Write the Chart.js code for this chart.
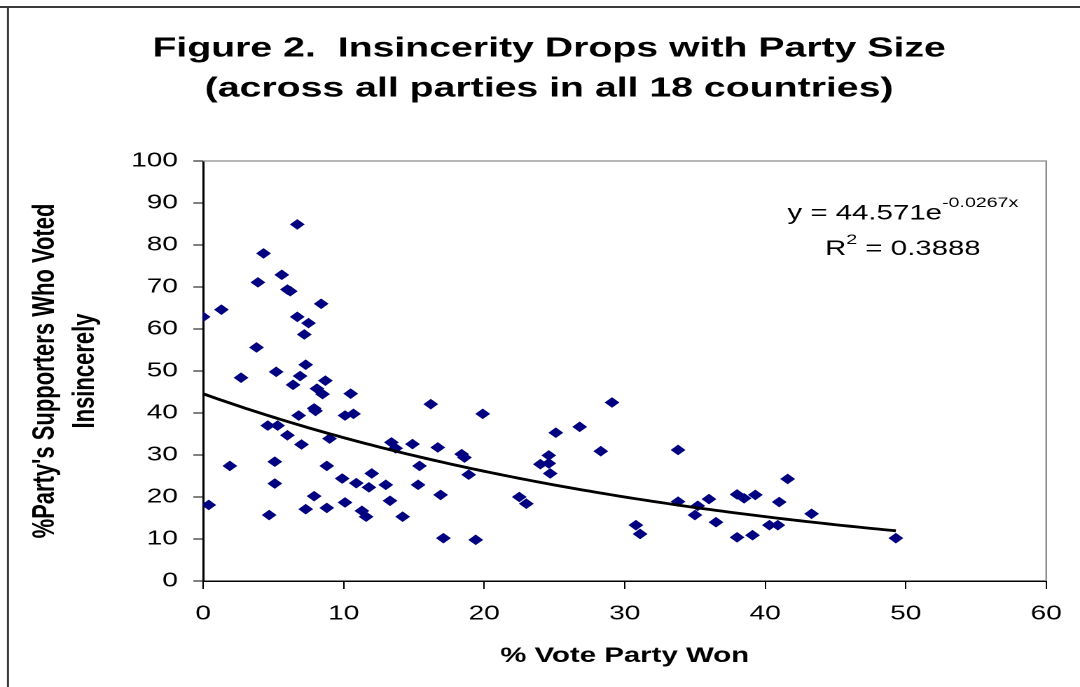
<!DOCTYPE html>
<html>
<head>
<meta charset="utf-8">
<script src="https://cdn.jsdelivr.net/npm/chart.js@4.4.0/dist/chart.umd.min.js"></script>
<style>
  html, body { margin: 0; padding: 0; background: #fff; overflow: hidden; }
</style>
</head>
<body>
<!-- drawn at 771 wide and shown at 1080: the original figure is stretched sideways -->
<canvas id="chart" width="771" height="687" style="width:1080px;height:687px;display:block"></canvas>
<script>
// % of the vote each party won (x) and % of its supporters voting insincerely (y)
const voteShare = [
  0.0, 0.4, 1.3, 1.9, 2.7, 3.8, 3.9, 4.3, 4.6, 4.7,
  5.1, 5.1, 5.2, 5.3, 5.6, 6.0, 6.2, 6.0, 6.4, 6.7,
  6.7, 6.8, 6.9, 7.0, 7.2, 7.3, 7.3, 7.5, 7.9, 7.9,
  8.0, 8.1, 8.4, 8.5, 8.7, 8.8, 8.8, 9.0, 9.9, 10.1,
  10.1, 10.5, 10.7, 10.9, 11.3, 11.6, 11.8, 12.0, 13.0, 13.3,
  13.4, 13.7, 14.2, 14.9, 15.3, 15.4, 16.2, 16.7, 16.9, 17.1,
  18.4, 18.6, 18.9, 19.4, 19.9, 22.5, 23.0, 24.0, 24.6, 24.6,
  24.7, 25.1, 26.8, 28.3, 29.1, 30.8, 31.1, 33.8, 33.8, 35.0,
  35.2, 36.0, 36.5, 38.0, 38.0, 38.5, 39.1, 39.3, 40.3, 40.9,
  41.0, 41.6, 43.3, 49.3
];
const insincere = [
  62.9, 18.1, 64.6, 27.4, 48.4, 55.6, 71.1, 78.0, 37.0, 15.7,
  28.4, 23.2, 49.8, 37.0, 72.9, 69.4, 69.0, 34.7, 46.7, 84.9,
  62.9, 39.4, 48.8, 32.5, 58.7, 51.5, 17.1, 61.4, 41.1, 20.2,
  40.5, 45.8, 66.0, 44.5, 47.7, 27.4, 17.4, 33.9, 24.4, 39.4,
  18.7, 44.6, 39.8, 23.3, 16.7, 15.3, 22.3, 25.6, 22.9, 19.1,
  33.0, 31.6, 15.3, 32.6, 22.9, 27.4, 42.1, 31.8, 20.5, 10.2,
  30.2, 29.4, 25.3, 9.8, 39.8, 20.0, 18.4, 27.8, 28.0, 29.9,
  25.6, 35.3, 36.7, 30.9, 42.5, 13.3, 11.2, 31.2, 18.9, 15.7,
  17.9, 19.5, 14.0, 20.6, 10.4, 19.7, 10.9, 20.5, 13.3, 13.3,
  18.8, 24.3, 16.0, 10.2
];

// exponential trend line as printed on the figure
const trendA = 44.571;
const trendB = -0.0267;
const trendR2 = '0.3888';

const titleLines = ['Figure 2.  Insincerity Drops with Party Size', '(across all parties in all 18 countries)'];
const xTitle = '% Vote Party Won';
const yTitle = ["%Party's Supporters Who Voted", 'Insincerely'];

const FONT = 'Arial, "Liberation Sans", sans-serif';

const points = voteShare.map((x, i) => ({ x: x, y: insincere[i] }));
const xMax = Math.max(...voteShare);
const trend = [];
for (let x = 0; x < xMax; x += 0.5) trend.push({ x: x, y: trendA * Math.exp(trendB * x) });
trend.push({ x: xMax, y: trendA * Math.exp(trendB * xMax) });

const decorations = {
  id: 'decorations',
  afterDraw(chart) {
    const ctx = chart.ctx;
    const { left, right, top, bottom } = chart.chartArea;
    const xs = chart.scales.x, ys = chart.scales.y;
    ctx.save();

    // outer frame (top and left edges)
    ctx.strokeStyle = '#3a3a3a';
    ctx.lineWidth = 2;
    ctx.beginPath(); ctx.moveTo(0, 7); ctx.lineTo(chart.width, 7); ctx.stroke();
    ctx.lineWidth = 1.5;
    ctx.beginPath(); ctx.moveTo(5.7, 7); ctx.lineTo(5.7, chart.height); ctx.stroke();

    // plot area border, top and right
    ctx.strokeStyle = '#8c8c8c';
    ctx.lineWidth = 1.2;
    ctx.beginPath(); ctx.moveTo(left, top); ctx.lineTo(right, top); ctx.lineTo(right, bottom); ctx.stroke();

    // title
    ctx.fillStyle = '#000';
    ctx.textAlign = 'center';
    ctx.textBaseline = 'middle';
    ctx.font = 'bold 28px ' + FONT;
    ctx.fillText(titleLines[0], 392, 49);
    ctx.fillText(titleLines[1], 392, 89);

    // trend equation
    const cx = xs.getPixelForValue(49.8);
    const y1 = ys.getPixelForValue(87.4);
    const y2 = ys.getPixelForValue(79.0);
    ctx.textAlign = 'left';
    const big = '21px ' + FONT, small = '14px ' + FONT;
    const main1 = 'y = ' + trendA + 'e', sup1 = String(trendB) + 'x';
    ctx.font = big; const w1 = ctx.measureText(main1).width;
    ctx.font = small; const w2 = ctx.measureText(sup1).width;
    let sx = cx - (w1 + w2) / 2;
    ctx.font = big; ctx.fillText(main1, sx, y1);
    ctx.font = small; ctx.fillText(sup1, sx + w1, y1 - 11);

    const r = 'R', r2 = '2', rest = ' = ' + trendR2;
    ctx.font = big; const wr = ctx.measureText(r).width, wrest = ctx.measureText(rest).width;
    ctx.font = small; const w2s = ctx.measureText(r2).width;
    sx = cx - (wr + w2s + wrest) / 2;
    ctx.font = big; ctx.fillText(r, sx, y2);
    ctx.font = small; ctx.fillText(r2, sx + wr, y2 - 9);
    ctx.font = big; ctx.fillText(rest, sx + wr + w2s, y2);

    ctx.restore();
  }
};

new Chart(document.getElementById('chart'), {
  type: 'scatter',
  data: {
    datasets: [
      {
        label: 'Parties',
        data: points,
        pointStyle: 'rectRot',
        pointRadius: 4.6,
        pointBackgroundColor: '#000080',
        pointBorderColor: '#000080',
        pointBorderWidth: 1,
        order: 1
      },
      {
        type: 'line',
        label: 'Expon. trend',
        data: trend,
        borderColor: '#000',
        borderWidth: 2.8,
        pointRadius: 0,
        fill: false,
        tension: 0,
        order: 0
      }
    ]
  },
  options: {
    responsive: false,
    devicePixelRatio: 2,
    animation: false,
    layout: { padding: { left: 6, right: 20, top: 161, bottom: 0 } },
    plugins: {
      legend: { display: false },
      tooltip: { enabled: false },
      title: { display: false }
    },
    scales: {
      x: {
        type: 'linear',
        min: 0,
        max: 60,
        ticks: { stepSize: 10, color: '#000', font: { size: 20, family: FONT }, padding: 13, maxRotation: 0 },
        grid: { drawOnChartArea: false, drawTicks: true, tickLength: 8, color: '#000', lineWidth: 1 },
        border: { color: '#000', width: 1.5 },
        title: {
          display: true,
          text: xTitle,
          color: '#000',
          font: { size: 21, weight: 'bold', family: FONT, lineHeight: 1.2 },
          padding: { top: 0, bottom: 18 }
        },
        afterFit(scale) { scale.height = 106; }
      },
      y: {
        min: 0,
        max: 100,
        ticks: { stepSize: 10, color: '#000', font: { size: 20, family: FONT }, padding: 11 },
        grid: { drawOnChartArea: false, drawTicks: true, tickLength: 7, color: '#000', lineWidth: 1 },
        border: { color: '#000', width: 1.5 },
        title: {
          display: true,
          text: yTitle,
          color: '#000',
          font: { size: 22, weight: 'bold', family: FONT, lineHeight: 1.3 },
          padding: { top: 12, bottom: 0 }
        },
        afterFit(scale) { scale.width = 139; }
      }
    }
  },
  plugins: [decorations]
});
</script>
</body>
</html>
